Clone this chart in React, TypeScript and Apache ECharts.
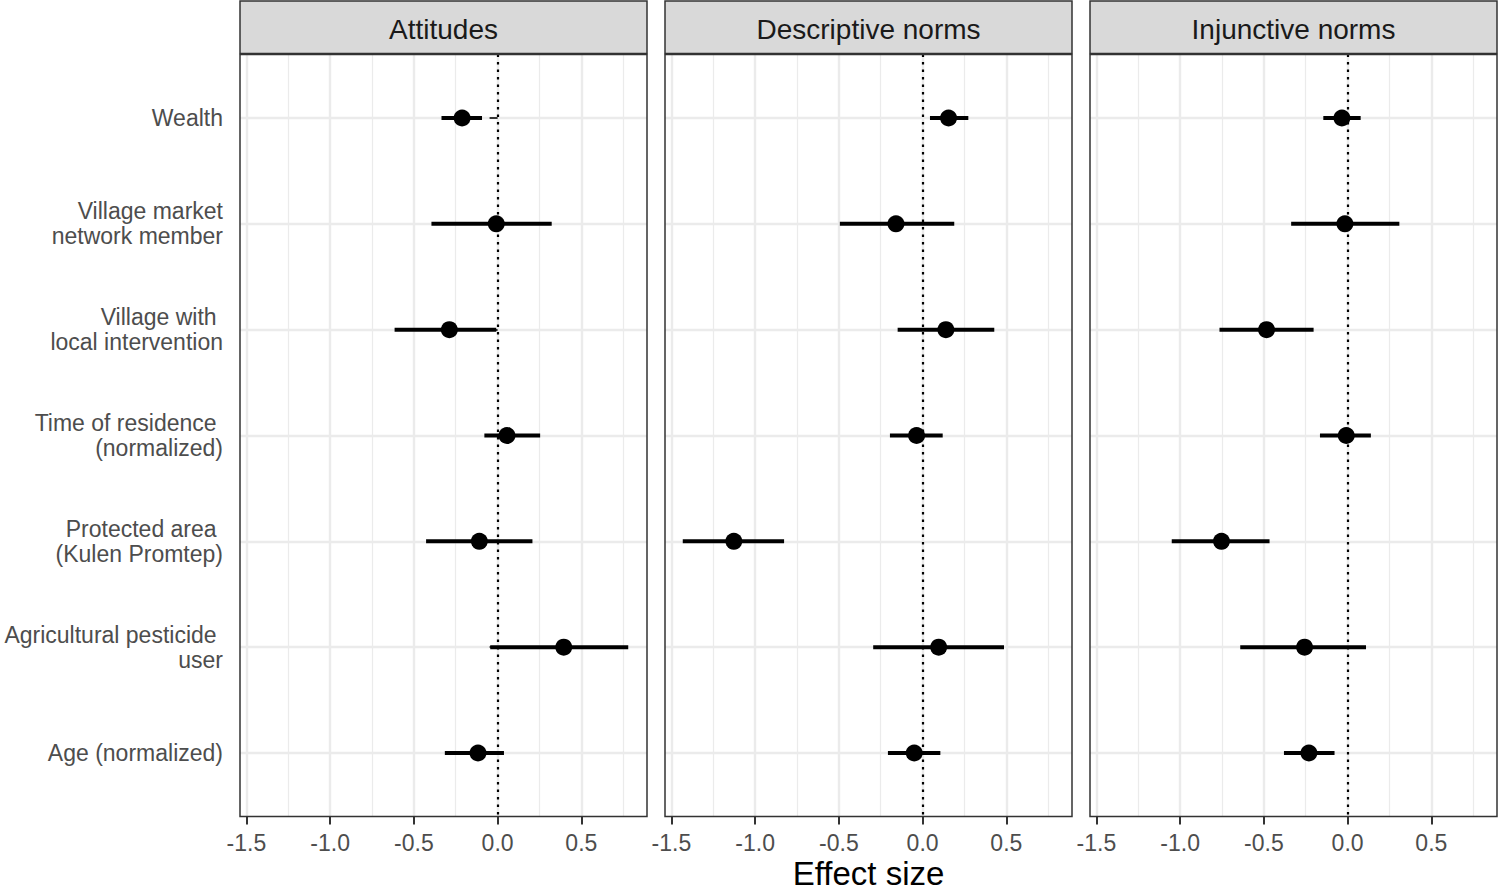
import React, { useEffect, useRef } from "react";
import * as echarts from "echarts";

const panels = ["Attitudes", "Descriptive norms", "Injunctive norms"];
const categories = [
  "Wealth",
  "Village market\nnetwork member",
  "Village with \nlocal intervention",
  "Time of residence \n(normalized)",
  "Protected area \n(Kulen Promtep)",
  "Agricultural pesticide \nuser",
  "Age (normalized)",
];

const attitudesEst = [-0.212, -0.008, -0.288, 0.056, -0.109, 0.395, -0.117];
const attitudesLow = [-0.335, -0.395, -0.615, -0.079, -0.427, -0.044, -0.315];
const attitudesHigh = [-0.093, 0.323, -0.008, 0.254, 0.208, 0.78, 0.038];

const descriptiveEst = [0.155, -0.159, 0.139, -0.036, -1.127, 0.096, -0.05];
const descriptiveLow = [0.044, -0.494, -0.149, -0.195, -1.432, -0.295, -0.207];
const descriptiveHigh = [0.273, 0.189, 0.428, 0.12, -0.827, 0.486, 0.106];

const injunctiveEst = [-0.034, -0.016, -0.484, -0.008, -0.753, -0.257, -0.231];
const injunctiveLow = [-0.145, -0.337, -0.765, -0.165, -1.05, -0.641, -0.38];
const injunctiveHigh = [0.078, 0.309, -0.203, 0.139, -0.466, 0.11, -0.078];

const xMajorTicks = [-1.5, -1.0, -0.5, 0.0, 0.5];
const xMinorTicks = [-1.25, -0.75, -0.25, 0.25, 0.75];
const yTicks = [1, 2, 3, 4, 5, 6, 7];
const X_MIN = -1.538;
const X_MAX = 0.892;
const Y_MIN = 0.4;
const Y_MAX = 7.6;
const xTitle = "Effect size";

const panelData = [
  { est: attitudesEst, low: attitudesLow, high: attitudesHigh },
  { est: descriptiveEst, low: descriptiveLow, high: descriptiveHigh },
  { est: injunctiveEst, low: injunctiveLow, high: injunctiveHigh },
];

export default function App() {
  const ref = useRef<HTMLDivElement>(null);

  useEffect(() => {
    if (!ref.current) return;
    const chart = echarts.init(ref.current, null, { renderer: "svg" });
    const FONT = "'Liberation Sans', Arial, Helvetica, sans-serif";
    const lefts = [240, 665, 1090];
    const W = 407;
    const STRIP_TOP = 1;
    const TOP = 54.5;
    const H = 762;

    const grid = lefts.map((l) => ({ left: l, top: TOP, width: W, height: H, show: false }));
    const xAxis: any[] = [];
    const yAxis: any[] = [];
    const series: any[] = [];
    const graphic: any[] = [];

    lefts.forEach((l, i) => {
      xAxis.push({
        type: "value",
        gridIndex: i,
        min: X_MIN,
        max: X_MAX,
        position: "bottom",
        axisLine: { show: false },
        axisTick: { show: true, customValues: xMajorTicks, length: 8, lineStyle: { color: "#333333", width: 2 } },
        axisLabel: {
          customValues: xMajorTicks,
          formatter: (v: number) => v.toFixed(1),
          color: "#4D4D4D",
          fontSize: 23,
          fontFamily: FONT,
          margin: 15,
        },
        splitLine: { show: true, lineStyle: { color: "#EBEBEB", width: 2.4 } },
      });
      xAxis.push({
        type: "value",
        gridIndex: i,
        min: X_MIN,
        max: X_MAX,
        position: "top",
        axisLine: { show: false },
        axisTick: { show: false, customValues: xMinorTicks },
        axisLabel: { show: false, customValues: xMinorTicks },
        splitLine: { show: true, lineStyle: { color: "#EBEBEB", width: 1.2 } },
      });
      yAxis.push({
        type: "value",
        gridIndex: i,
        min: Y_MIN,
        max: Y_MAX,
        inverse: true,
        axisLine: { show: false },
        axisTick: { show: i === 0, customValues: yTicks, length: 8, lineStyle: { color: "#333333", width: 2 } },
        axisLabel: {
          show: i === 0,
          customValues: yTicks,
          formatter: (v: number) => categories[Math.round(v) - 1] ?? "",
          color: "#4D4D4D",
          fontSize: 23,
          lineHeight: 25,
          fontFamily: FONT,
          margin: 17,
        },
        splitLine: { show: true, lineStyle: { color: "#EBEBEB", width: 2.4 } },
      });

      const d = panelData[i];
      series.push({
        type: "custom",
        xAxisIndex: 2 * i,
        yAxisIndex: i,
        z: 2,
        silent: true,
        encode: { x: [0, 1], y: 2 },
        data: categories.map((_, k) => [d.low[k], d.high[k], k + 1]),
        renderItem: (_p: any, api: any) => {
          const a = api.coord([api.value(0), api.value(2)]);
          const b = api.coord([api.value(1), api.value(2)]);
          return {
            type: "line",
            shape: { x1: a[0], y1: a[1], x2: b[0], y2: b[1] },
            style: { stroke: "#000000", lineWidth: 4 },
          };
        },
        markLine: {
          silent: true,
          symbol: ["none", "none"],
          label: { show: false },
          lineStyle: { type: [2.5, 5], color: "#000000", width: 2.2, cap: "butt" },
          data: [{ xAxis: 0 }],
        },
      });
      series.push({
        type: "scatter",
        xAxisIndex: 2 * i,
        yAxisIndex: i,
        z: 10,
        symbol: "circle",
        symbolSize: 17,
        itemStyle: { color: "#000000", opacity: 1 },
        data: d.est.map((v, k) => [v, k + 1]),
      });

      graphic.push({
        type: "rect",
        z: 100,
        shape: { x: l, y: STRIP_TOP, width: W, height: TOP - STRIP_TOP - 1 },
        style: { fill: "#D9D9D9", stroke: "#333333", lineWidth: 1.5 },
      });
      graphic.push({
        type: "text",
        z: 101,
        x: l + W / 2,
        y: 29,
        style: {
          text: panels[i],
          align: "center",
          verticalAlign: "middle",
          fontSize: 28,
          fontFamily: FONT,
          fill: "#1A1A1A",
        },
      });
      graphic.push({
        type: "rect",
        z: 100,
        shape: { x: l, y: TOP, width: W, height: H },
        style: { fill: "none", stroke: "#333333", lineWidth: 1.5 },
      });
    });

    graphic.push({
      type: "text",
      z: 101,
      x: lefts[1] + W / 2,
      y: 873,
      style: {
        text: xTitle,
        align: "center",
        verticalAlign: "middle",
        fontSize: 33,
        fontFamily: FONT,
        fill: "#000000",
      },
    });

    chart.setOption({
      animation: false,
      backgroundColor: "#FFFFFF",
      grid,
      xAxis,
      yAxis,
      series,
      graphic,
    });

    return () => chart.dispose();
  }, []);

  return (
    <div
      ref={ref}
      style={{ position: "fixed", left: 0, top: 0, width: 1500, height: 891, background: "#fff" }}
    />
  );
}
